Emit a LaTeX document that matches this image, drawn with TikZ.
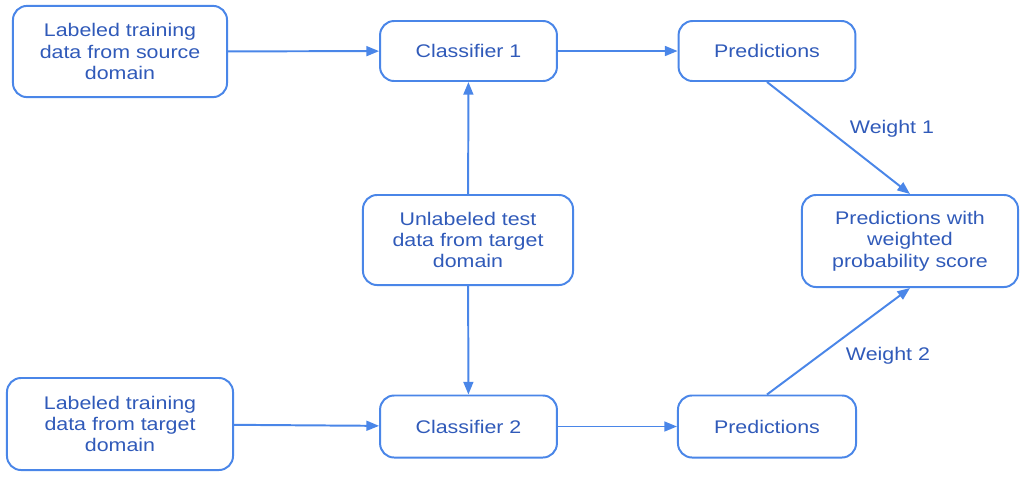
\documentclass[tikz,border=0pt]{standalone}
\usepackage{fontspec}
\setmainfont{Liberation Sans}[FakeStretch=1.17]
\usetikzlibrary{arrows.meta}

\begin{document}
\begin{tikzpicture}[x=0.025cm, y=-0.025cm, >={Triangle[length=9pt, width=7pt]}]
  \definecolor{flowblue}{RGB}{74,134,232}
  \definecolor{textblue}{RGB}{48,90,185}

  \tikzset{
    box/.style={draw=flowblue, line width=1.4pt, rounded corners=10pt,
      align=center, text=textblue, font=\fontsize{13}{15.2}\selectfont, inner sep=0pt},
    link/.style={draw=flowblue, line width=1.4pt, ->},
    wlabel/.style={text=textblue, font=\fontsize{13}{15.2}\selectfont}
  }

  \useasboundingbox (0,0) rectangle (1021,476);

  \node[box, minimum width=5.35cm, minimum height=2.28cm] (srcdata) at (120,51.5)
    {Labeled training\\data from source\\domain};
  \node[box, minimum width=4.42cm, minimum height=1.5cm] (clfone) at (468.5,51)
    {Classifier 1};
  \node[box, minimum width=4.42cm, minimum height=1.5cm] (predone) at (767,51)
    {Predictions};
  \node[box, minimum width=5.25cm, minimum height=2.25cm] (testdata) at (468,240)
    {Unlabeled test\\data from target\\domain};
  \node[box, minimum width=5.4cm, minimum height=2.3cm] (weighted) at (910,241)
    {Predictions with\\weighted\\probability score};
  \node[box, minimum width=5.65cm, minimum height=2.3cm] (tgtdata) at (120,424)
    {Labeled training\\data from target\\domain};
  \node[box, minimum width=4.42cm, minimum height=1.55cm] (clftwo) at (468.5,426.5)
    {Classifier 2};
  \node[box, minimum width=4.45cm, minimum height=1.55cm] (predtwo) at (767,426.5)
    {Predictions};

  \draw[link] (srcdata) -- (clfone);
  \draw[link] (clfone) -- (predone);
  \draw[link] (testdata) -- (clfone);
  \draw[link] (testdata) -- (clftwo);
  \draw[link] (tgtdata) -- (clftwo);
  \draw[link] (clftwo) -- (predtwo);

  % weighted merge of both prediction sets
  \draw[link] (predone.south) -- (weighted.north);
  \draw[link] (predtwo.north) -- (weighted.south);
  \node[wlabel] (wone) at (892,129) {Weight 1};
  \node[wlabel] (wtwo) at (888,356) {Weight 2};

\end{tikzpicture}
\end{document}
